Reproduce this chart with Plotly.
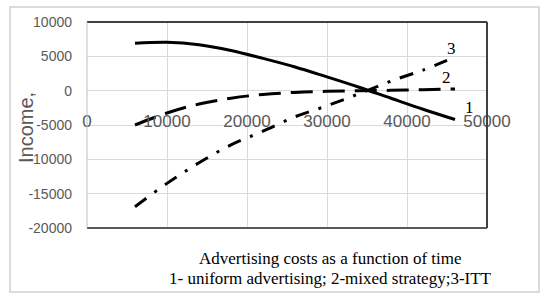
import plotly.graph_objects as go

# Data
x1 = [6000, 10000, 14000, 18000, 22000, 26000, 30000, 34000, 38000, 42000, 46000]
y1_uniform = [6900, 7050, 6700, 5850, 4700, 3450, 2000, 500, -1100, -2700, -4200]

x2 = [6000, 10000, 14000, 18000, 22000, 26000, 30000, 34000, 38000, 42000, 46000]
y2_mixed = [-5000, -3250, -1950, -1100, -550, -250, -100, -20, 50, 130, 250]

x3 = [6000, 10000, 14000, 18000, 22000, 26000, 30000, 34000, 38000, 42000, 45000]
y3_itt = [-16900, -13500, -10500, -7900, -5900, -3800, -2200, -450, 1400, 3000, 4400]

x_ticks = [0, 10000, 20000, 30000, 40000, 50000]
y_ticks = [-20000, -15000, -10000, -5000, 0, 5000, 10000]

curve_labels = ["1", "2", "3"]
label_pos_x = [47750, 44875, 45500]
label_pos_y = [-2460, 1920, 6170]

x_title_line1 = "Advertising costs as a function of time"
x_title_line2 = "1- uniform advertising; 2-mixed strategy;3-ITT"
y_title = "Income,"

W, H = 548, 301
L, R, T, B = 87, 61, 22, 73
pw, ph = W - L - R, H - T - B


def px_x(p):
    return (p - L) / pw


def px_y(p):
    return (H - B - p) / ph


fig = go.Figure()
fig.add_trace(go.Scatter(x=x1, y=y1_uniform, mode="lines",
                         line=dict(color="black", width=3, shape="spline")))
fig.add_trace(go.Scatter(x=x2, y=y2_mixed, mode="lines",
                         line=dict(color="black", width=3, shape="spline", dash="22px,10px")))
fig.add_trace(go.Scatter(x=x3, y=y3_itt, mode="lines",
                         line=dict(color="black", width=3, shape="spline",
                                   dash="14px,10px,3px,10px")))

grid = "#d9d9d9"
fig.update_layout(
    width=W, height=H,
    margin=dict(l=L, r=R, t=T, b=B),
    paper_bgcolor="white", plot_bgcolor="white",
    showlegend=False,
    xaxis=dict(range=[0, 50000], tickvals=x_ticks, ticktext=[str(v) for v in x_ticks],
               showgrid=True, gridcolor=grid, gridwidth=1, zeroline=False,
               showline=False, ticks="", anchor="free", position=px_y(109),
               tickfont=dict(family="Liberation Sans", size=17, color="#595959")),
    yaxis=dict(range=[-20000, 10000], tickvals=y_ticks, ticktext=[str(v) for v in y_ticks],
               showgrid=True, gridcolor=grid, gridwidth=1, zeroline=False,
               showline=False, ticks="", ticklabelstandoff=14,
               tickfont=dict(family="Liberation Sans", size=14, color="#595959")),
)

# plot-area border (as in the reference)
fig.add_shape(type="line", xref="paper", yref="paper", x0=0, x1=1, y0=1, y1=1,
              line=dict(color="black", width=1.5))
fig.add_shape(type="line", xref="paper", yref="paper", x0=1, x1=1, y0=0, y1=1,
              line=dict(color="#404040", width=2))
fig.add_shape(type="line", xref="paper", yref="paper", x0=0, x1=1, y0=0, y1=0,
              line=dict(color="#595959", width=2))
fig.add_shape(type="line", xref="paper", yref="paper", x0=0, x1=0, y0=0, y1=1,
              line=dict(color="#bfbfbf", width=1))
# outer chart border
fig.add_shape(type="rect", xref="paper", yref="paper",
              x0=px_x(10), x1=px_x(539), y0=px_y(292), y1=px_y(7),
              line=dict(color="#d0d0d0", width=1.5), layer="above")

for t, lx, ly in zip(curve_labels, label_pos_x, label_pos_y):
    fig.add_annotation(x=lx, y=ly, text=t, showarrow=False, xref="x", yref="y",
                       font=dict(family="Liberation Serif", size=17, color="black"))

fig.add_annotation(x=px_x(330), y=px_y(258), xref="paper", yref="paper", text=x_title_line1,
                   showarrow=False, xanchor="center", yanchor="middle",
                   font=dict(family="Liberation Serif", size=17, color="black"))
fig.add_annotation(x=px_x(330), y=px_y(278), xref="paper", yref="paper", text=x_title_line2,
                   showarrow=False, xanchor="center", yanchor="middle",
                   font=dict(family="Liberation Serif", size=17, color="black"))
fig.add_annotation(x=px_x(26), y=px_y(128), xref="paper", yref="paper", text=y_title,
                   showarrow=False, textangle=-90, xanchor="center", yanchor="middle",
                   font=dict(family="Liberation Sans", size=20, color="#595959"))

fig.write_html("out.html", config={"displayModeBar": False},
               post_script="document.body.style.margin='0px';document.body.style.padding='0px';")
